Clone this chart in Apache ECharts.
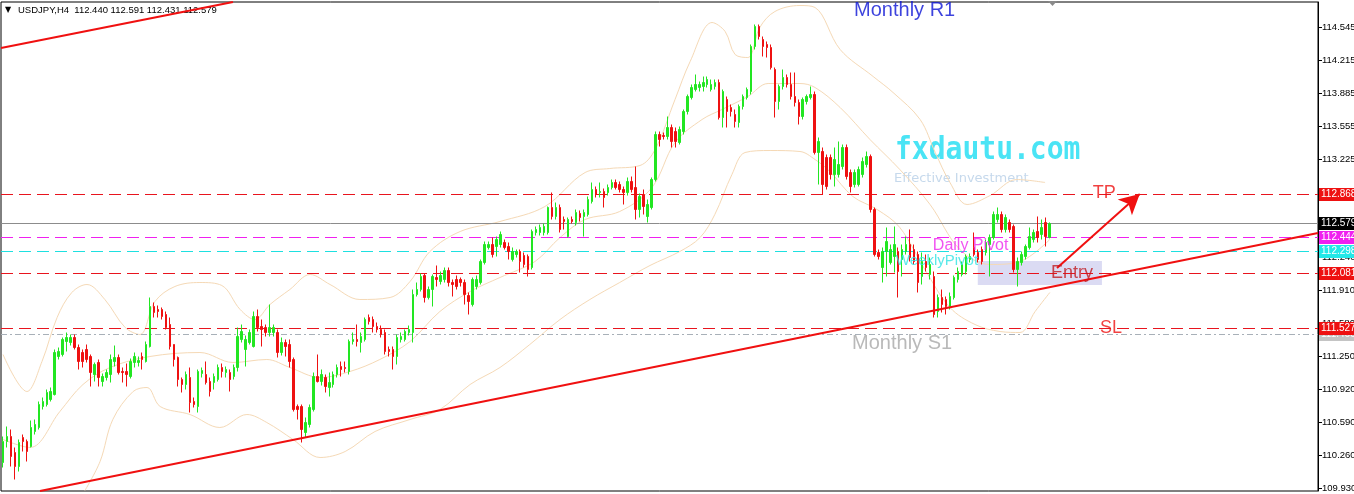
<!DOCTYPE html>
<html><head><meta charset="utf-8">
<script src="https://cdn.jsdelivr.net/npm/echarts@6/dist/echarts.min.js"></script>
<style>html,body{margin:0;padding:0;background:#fff}#c{width:1354px;height:494px}</style>
</head><body><div id="c"></div>
<script>
const symbolName = 'USDJPY,H4';
const N_SLOTS = 331;
// [open, close, low, high]
const ohlc = [
[110.19,110.40,110.14,110.45],[110.40,110.45,110.34,110.55],[110.45,110.25,110.15,110.52],[110.29,110.15,110.02,110.34],[110.15,110.39,110.10,110.42],
[110.44,110.40,110.30,110.47],[110.40,110.30,110.20,110.42],[110.35,110.54,110.34,110.61],[110.50,110.57,110.47,110.62],[110.54,110.77,110.52,110.80],
[110.75,110.80,110.72,110.84],[110.77,110.89,110.75,110.92],[110.82,110.90,110.80,110.94],[110.87,111.29,110.86,111.32],[111.25,111.30,111.22,111.34],
[111.27,111.42,111.25,111.44],[111.40,111.44,111.30,111.49],[111.39,111.44,111.36,111.47],[111.44,111.34,111.32,111.47],[111.34,111.20,111.12,111.37],
[111.29,111.20,111.14,111.32],[111.32,111.22,111.19,111.37],[111.25,111.09,110.95,111.27],[111.07,111.17,111.00,111.19],[111.19,111.04,110.95,111.22],
[111.00,111.05,110.95,111.08],[111.04,111.09,111.01,111.12],[111.07,111.22,110.99,111.27],[111.20,111.24,111.15,111.36],[111.24,111.09,111.07,111.27],
[111.10,111.09,110.99,111.14],[111.10,111.07,110.95,111.18],[111.05,111.20,111.03,111.23],[111.19,111.25,111.14,111.29],[111.19,111.21,111.15,111.25],
[111.25,111.22,111.12,111.29],[111.20,111.37,111.19,111.40],[111.35,111.75,111.34,111.84],[111.75,111.69,111.64,111.79],[111.72,111.70,111.64,111.76],
[111.72,111.65,111.62,111.74],[111.67,111.54,111.52,111.70],[111.57,111.35,111.32,111.64],[111.37,111.22,111.15,111.37],[111.24,111.02,110.95,111.25],
[111.02,110.97,110.89,111.04],[110.97,111.07,110.92,111.10],[111.04,110.79,110.69,111.14],[110.80,110.77,110.74,110.84],[110.75,111.10,110.69,111.12],
[111.08,111.11,111.04,111.14],[111.07,110.99,110.97,111.20],[111.00,110.90,110.85,111.04],[110.99,111.05,110.92,111.08],[111.02,111.14,111.00,111.17],
[111.14,111.10,111.04,111.18],[111.09,111.12,111.04,111.15],[111.09,111.02,110.90,111.12],[111.05,111.14,111.02,111.17],[111.14,111.45,111.10,111.54],
[111.42,111.50,111.39,111.57],[111.32,111.42,111.15,111.46],[111.39,111.49,111.37,111.52],[111.35,111.65,111.34,111.70],[111.65,111.54,111.50,111.72],
[111.55,111.52,111.35,111.62],[111.54,111.49,111.45,111.57],[111.49,111.54,111.45,111.77],[111.49,111.54,111.45,111.57],[111.49,111.29,111.24,111.52],
[111.29,111.39,111.26,111.44],[111.39,111.35,111.25,111.42],[111.37,111.20,111.14,111.42],[111.22,110.72,110.70,111.24],[110.75,110.72,110.62,110.77],
[110.75,110.52,110.39,110.77],[110.49,110.59,110.44,110.64],[110.57,110.74,110.54,110.77],[110.72,111.05,110.70,111.09],[111.05,111.00,110.99,111.27],
[111.00,111.07,110.96,111.12],[111.04,110.95,110.89,111.07],[110.94,110.99,110.85,111.09],[110.97,111.07,110.94,111.10],[111.07,111.14,111.04,111.17],
[111.15,111.12,111.05,111.20],[111.14,111.13,111.09,111.20],[111.10,111.40,111.07,111.42],[111.40,111.42,111.37,111.49],[111.42,111.40,111.35,111.57],
[111.39,111.45,111.29,111.49],[111.42,111.62,111.40,111.64],[111.64,111.60,111.57,111.67],[111.62,111.55,111.49,111.65],[111.55,111.52,111.49,111.59],
[111.52,111.47,111.44,111.56],[111.49,111.30,111.27,111.52],[111.32,111.30,111.25,111.35],[111.32,111.25,111.12,111.35],[111.25,111.44,111.17,111.47],
[111.42,111.45,111.39,111.49],[111.42,111.50,111.40,111.52],[111.49,111.52,111.46,111.56],[111.49,111.87,111.39,111.92],[111.87,111.92,111.85,111.99],
[111.92,112.05,111.90,112.08],[112.06,111.84,111.79,112.08],[111.84,111.92,111.82,111.95],[111.92,112.05,111.75,112.07],[112.04,112.02,111.95,112.16],
[112.00,112.06,111.97,112.10],[112.02,112.11,111.99,112.14],[112.11,111.99,111.95,112.14],[111.99,111.97,111.85,112.02],[112.02,111.95,111.92,112.06],
[112.02,111.99,111.95,112.04],[111.99,111.87,111.77,112.02],[111.86,111.80,111.67,111.89],[111.77,112.02,111.75,112.04],[111.95,112.02,111.92,112.06],
[111.99,112.20,111.97,112.22],[112.19,112.37,112.17,112.40],[112.34,112.37,112.32,112.40],[112.37,112.27,112.24,112.44],[112.35,112.42,112.25,112.45],
[112.37,112.47,112.34,112.50],[112.39,112.34,112.32,112.42],[112.35,112.30,112.22,112.39],[112.22,112.30,112.20,112.34],[112.27,112.30,112.24,112.32],
[112.30,112.20,112.09,112.32],[112.26,112.17,112.14,112.29],[112.25,112.12,112.05,112.27],[112.14,112.50,112.12,112.52],[112.49,112.52,112.46,112.55],
[112.49,112.54,112.46,112.57],[112.49,112.55,112.46,112.58],[112.49,112.74,112.47,112.75],[112.74,112.65,112.62,112.89],[112.65,112.74,112.62,112.79],
[112.74,112.52,112.49,112.77],[112.62,112.60,112.52,112.65],[112.45,112.62,112.44,112.64],[112.62,112.60,112.58,112.65],[112.59,112.69,112.56,112.72],
[112.68,112.64,112.60,112.71],[112.65,112.69,112.45,112.72],[112.67,112.82,112.65,112.85],[112.80,112.92,112.78,112.99],[112.92,112.87,112.84,112.95],
[112.89,112.90,112.84,112.99],[112.90,112.84,112.74,112.93],[112.89,112.94,112.86,112.97],[112.94,112.99,112.92,113.02],[112.99,112.94,112.92,113.02],
[112.97,112.92,112.89,113.00],[112.92,112.89,112.77,112.95],[112.89,113.00,112.86,113.04],[113.00,112.92,112.89,113.05],[112.94,112.72,112.62,113.15],
[112.72,112.85,112.64,112.88],[112.87,112.75,112.67,112.92],[112.65,112.77,112.59,112.82],[112.74,113.02,112.72,113.04],[113.02,113.47,113.00,113.50],
[113.47,113.42,113.35,113.50],[113.46,113.45,113.42,113.49],[113.45,113.54,113.42,113.65],[113.54,113.40,113.34,113.57],[113.50,113.40,113.34,113.54],
[113.39,113.52,113.37,113.55],[113.50,113.70,113.47,113.72],[113.70,113.85,113.67,113.87],[113.84,113.94,113.82,113.97],[113.92,113.97,113.90,114.07],
[113.94,113.97,113.90,114.00],[113.95,113.99,113.90,114.05],[113.97,114.02,113.94,114.05],[113.92,113.97,113.90,114.02],[113.95,113.99,113.92,114.02],
[113.99,113.64,113.62,114.02],[113.64,113.90,113.54,113.92],[113.82,113.70,113.54,113.85],[113.74,113.70,113.65,113.77],[113.67,113.60,113.54,113.72],
[113.59,113.75,113.54,113.77],[113.75,113.85,113.72,113.87],[113.84,113.92,113.82,113.94],[113.90,114.35,113.87,114.37],[114.35,114.55,114.32,114.57],
[114.55,114.45,114.42,114.57],[114.42,114.35,114.25,114.45],[114.37,114.34,114.24,114.40],[114.34,114.14,114.12,114.37],[114.12,113.80,113.64,114.14],
[113.80,113.95,113.72,113.97],[113.95,114.04,113.92,114.12],[114.04,113.97,113.94,114.07],[113.97,113.85,113.82,114.09],[113.85,113.79,113.75,114.09],
[113.79,113.65,113.57,113.82],[113.65,113.82,113.62,113.84],[113.80,113.85,113.77,113.87],[113.84,113.87,113.82,113.95],[113.87,113.29,113.27,113.90],
[113.29,113.40,112.97,113.44],[113.30,112.97,112.87,113.34],[113.24,112.95,112.92,113.27],[113.24,113.07,113.02,113.27],[113.07,113.22,112.95,113.34],
[113.07,113.17,113.04,113.40],[113.15,113.34,113.12,113.37],[113.34,113.05,113.02,113.37],[113.09,112.95,112.89,113.12],[112.97,113.09,112.94,113.12],
[112.97,113.12,112.95,113.15],[113.07,113.20,113.04,113.24],[113.17,113.25,113.14,113.30],[113.25,112.72,112.69,113.27],[112.72,112.27,112.25,112.74],
[112.29,112.25,112.22,112.32],[112.14,112.30,111.99,112.34],[112.30,112.40,112.05,112.54],[112.19,112.32,112.17,112.37],[112.25,112.37,112.09,112.55],
[112.30,112.10,111.84,112.34],[112.22,112.32,112.05,112.37],[112.30,112.37,112.27,112.45],[112.37,112.24,112.20,112.52],[112.32,112.20,112.17,112.37],
[112.27,111.99,111.89,112.30],[112.05,112.20,111.97,112.29],[112.20,112.14,112.10,112.27],[112.07,112.17,112.02,112.24],[112.05,111.67,111.64,112.10],
[111.70,111.84,111.64,111.87],[111.84,111.77,111.69,111.92],[111.82,111.75,111.67,111.85],[111.75,111.85,111.72,111.89],[111.84,112.04,111.82,112.06],
[112.02,112.10,111.99,112.14],[112.07,112.17,112.05,112.20],[112.10,112.25,112.07,112.27],[112.22,112.25,112.19,112.28],[112.34,112.27,112.25,112.49],
[112.29,112.22,112.19,112.32],[112.32,112.20,112.17,112.35],[112.29,112.39,112.26,112.42],[112.37,112.44,112.05,112.47],[112.44,112.67,112.42,112.70],
[112.62,112.67,112.59,112.74],[112.67,112.52,112.49,112.70],[112.52,112.64,112.49,112.67],[112.59,112.52,112.49,112.62],[112.55,112.12,112.09,112.57],
[112.12,112.20,111.95,112.24],[112.19,112.27,112.16,112.30],[112.25,112.35,112.22,112.37],[112.34,112.45,112.32,112.54],[112.42,112.49,112.39,112.52],
[112.50,112.44,112.39,112.65],[112.47,112.54,112.42,112.62],[112.59,112.45,112.35,112.64],[112.440,112.579,112.431,112.591]
];
const yTicks = [109.930,110.260,110.590,110.920,111.250,111.580,111.910,112.240,112.570,112.900,113.225,113.555,113.885,114.215,114.545];
const yMin = 109.905, yMax = 114.795;
// horizontal levels: bid, TP, weekly pivot, daily pivot, monthly S1, SL, entry
const levelValues = [112.579, 112.868, 112.298, 112.444, 111.466, 111.527, 112.081];
// Bollinger bands, [slot, price]
const bbUpper = [[0,111.27],[6,110.9],[9.8,111.2],[13.6,111.64],[17.3,111.89],[21.1,111.97],[25.6,111.82],[30.7,111.54],[34.4,111.47],[38.2,111.8],[43.2,111.95],[49.5,111.99],[55,111.96],[59.6,111.72],[63.3,111.62],[67.1,111.77],[72.1,111.92],[77.2,112.07],[82.2,111.97],[89.7,111.82],[97.3,111.84],[102.3,112.0],[107.3,112.3],[114.9,112.5],[124.9,112.6],[136.2,112.75],[146.3,113.09],[152.5,113.13],[160.1,113.16],[163.9,113.32],[168.9,113.82],[172.7,114.2],[178.2,114.59],[181.5,114.5],[184,114.27],[187.2,114.24],[190.2,114.54],[194,114.7],[200.3,114.76],[204.1,114.74],[210.4,114.32],[218.7,114.05],[223.7,113.89],[230.5,113.62],[234.3,113.29],[238,112.99],[242.3,112.77],[248.1,112.86],[254.8,113.02],[261.9,112.99]];
const bbMiddle = [[0,110.42],[6.8,110.34],[14.3,110.7],[20.1,110.97],[26.9,111.14],[36.9,111.25],[49.5,111.29],[57.8,111.19],[66.3,111.22],[72.1,111.14],[79.7,111.04],[87.2,111.1],[94.7,111.22],[102.3,111.4],[109.8,111.7],[117.4,111.9],[124.9,112.04],[133.7,112.2],[140,112.44],[146.3,112.62],[155,112.7],[163.1,112.94],[168.9,113.39],[175.7,113.62],[180.7,113.72],[187.2,113.85],[192.3,113.98],[200.3,113.98],[204.1,113.94],[210.4,113.74],[217.9,113.42],[225.4,113.12],[233,112.77],[240.5,112.32],[248.1,112.17],[255.6,112.2],[263.1,112.42]];
const bbLower = [[20.6,109.91],[24.4,110.2],[27.6,110.62],[32.7,110.9],[36.2,110.94],[39.5,110.75],[47,110.67],[54.5,110.54],[61.3,110.67],[66.3,110.59],[72.9,110.42],[79.7,110.24],[86,110.3],[93.5,110.5],[102.3,110.62],[109.8,110.72],[117.4,110.97],[124.9,111.14],[132.4,111.37],[140,111.62],[147.5,111.82],[155,111.99],[162.6,112.16],[170.1,112.3],[175.2,112.44],[178.9,112.67],[183.2,113.07],[186.5,113.29],[192.8,113.31],[200.3,113.3],[204.1,113.22],[207.8,113.1],[213.6,112.85],[219.7,112.72],[225.4,112.54],[231.7,112.12],[238,111.74],[244.3,111.57],[250.6,111.5],[255.6,111.49],[259.4,111.7],[263.1,111.89]];
// drawn objects, [slot, price]
const lowerTrend = [[9.3,109.905],[330.5,112.485]];
const upperTrend = [[-0.5,114.335],[57.8,114.795]];
const entryZone = [[245.0,112.205],[276.2,111.965]];
const arrowPts = [[264.9,112.135],[285.7,112.875]];
const annoTexts = ['Monthly R1','Monthly S1','Daily Pivot','WeeklyPivot','TP','SL','Entry'];
const annoSlots = [213.9,213.4,233.7,224.4,273.9,275.7,263.4];
const annoPrices = [114.715,111.385,112.355,112.205,112.885,111.535,112.085];

const FONT = '"Liberation Sans", Arial, sans-serif';
const levelStyles = [
  {color:'#8c8c8c', type:'solid', bg:'#000000'},
  {color:'#e8141e', type:[12,6], bg:'#ee1111'},
  {color:'#1ee0e0', type:[12,6], bg:'#22e8e8'},
  {color:'#f020f0', type:[12,6], bg:'#f020f0'},
  {color:'#a8b0b8', type:[6,3,2,3], bg:'#c4c4c4'},
  {color:'#e8141e', type:[12,6], bg:'#ee1111'},
  {color:'#e8141e', type:[12,6], bg:'#ee1111'}
];
const annoStyles = [
  {color:'#0c14d4', size:20}, {color:'#a8a8a8', size:20}, {color:'#ee28ee', size:16},
  {color:'#30e4e4', size:15}, {color:'#ee1111', size:18}, {color:'#ee1111', size:18}, {color:'#c01c22', size:18}
];

const last = ohlc[ohlc.length - 1];
const headerText = symbolName + '  ' + [last[0], last[3], last[2], last[1]].map(v => v.toFixed(3)).join(' ');
const slots = Array.from({length: N_SLOTS}, (_, i) => i);
const bandStyle = c => ({color: c, width: 1});

const chart = echarts.init(document.getElementById('c'), null, {renderer: 'canvas'});
chart.setOption({
  animation: false,
  backgroundColor: '#ffffff',
  grid: {left: 1, right: 36, top: 2, bottom: 3, show: true, borderColor: '#000', borderWidth: 1,
         backgroundColor: 'transparent', containLabel: false, outerBoundsMode: 'none'},
  xAxis: [
    {type: 'category', data: slots, boundaryGap: true, show: false},
    {type: 'value', min: -0.5, max: N_SLOTS - 0.5, show: false}
  ],
  yAxis: {
    type: 'value', position: 'right', min: yMin, max: yMax,
    axisLine: {show: true, onZero: false, lineStyle: {color: '#000', width: 1}},
    axisTick: {show: true, inside: false, length: 4, customValues: yTicks, lineStyle: {color: '#000'}},
    axisLabel: {show: true, customValues: yTicks, formatter: v => v.toFixed(3), color: '#000', fontSize: 9.5, fontFamily: FONT, margin: 4},
    splitLine: {show: false}
  },
  graphic: [
    {type: 'text', x: 5, y: 10, style: {text: '▼', font: '8px "DejaVu Sans"', fill: '#000', verticalAlign: 'middle', textVerticalAlign: 'middle'}},
    {type: 'text', x: 18, y: 10, style: {text: headerText, font: '9.5px ' + FONT, fill: '#000', verticalAlign: 'middle', textVerticalAlign: 'middle'}},
    {type: 'text', x: 895, y: 150, scaleY: 1.17, style: {text: 'fxdautu.com', font: 'bold 28px "DejaVu Sans Mono"', fill: '#4ae4f5', verticalAlign: 'middle', textVerticalAlign: 'middle'}},
    {type: 'text', x: 894, y: 179, style: {text: 'Effective Investment', font: '13px "DejaVu Sans"', fill: '#c6d9ec', verticalAlign: 'middle', textVerticalAlign: 'middle'}},
    {type: 'polygon', shape: {points: [[1048, 1], [1057, 1], [1052.5, 6]]}, style: {fill: '#8a8a8a'}}
  ],
  series: [
    {type: 'line', name: 'bbUpper', xAxisIndex: 1, data: bbUpper, smooth: 0.35, symbol: 'none', lineStyle: bandStyle('#f5d9b6'), z: 1, silent: true, clip: false},
    {type: 'line', name: 'bbMiddle', xAxisIndex: 1, data: bbMiddle, smooth: 0.35, symbol: 'none', lineStyle: bandStyle('#f5d9b6'), z: 1, silent: true, clip: false,
      markLine: {
        silent: true, symbol: 'none', animation: false,
        data: levelValues.map((v, i) => ({
          yAxis: v,
          lineStyle: {color: levelStyles[i].color, type: levelStyles[i].type, width: 1},
          label: {show: true, position: 'end', distance: 1, formatter: v.toFixed(3), color: '#fff',
                  backgroundColor: levelStyles[i].bg, padding: [2, 4, 1, 2], fontSize: 10, fontFamily: FONT}
        }))
      }},
    {type: 'line', name: 'bbLower', xAxisIndex: 1, data: bbLower, smooth: 0.35, symbol: 'none', lineStyle: bandStyle('#f5d9b6'), z: 1, silent: true, clip: false,
      markArea: {silent: true, itemStyle: {color: 'rgba(200,200,236,0.65)'},
        data: [[{coord: entryZone[0]}, {coord: entryZone[1]}]]}},
    {type: 'candlestick', xAxisIndex: 0, data: ohlc, barWidth: 2, z: 5,
      itemStyle: {color: '#22e622', color0: '#ee1111', borderColor: '#22e622', borderColor0: '#ee1111', borderColorDoji: '#ee1111', borderWidth: 1}},
    {type: 'line', name: 'upperTrend', xAxisIndex: 1, data: upperTrend, symbol: 'none', lineStyle: {color: '#f01010', width: 2}, z: 6, silent: true},
    {type: 'line', name: 'lowerTrend', xAxisIndex: 1, data: lowerTrend, symbol: 'none', lineStyle: {color: '#f01010', width: 2}, z: 6, silent: true,
      markLine: {silent: true, animation: false, symbol: ['none', 'arrow'], symbolSize: [16, 20],
        lineStyle: {color: '#f01010', width: 2, type: 'solid'}, label: {show: false},
        data: [[{coord: arrowPts[0]}, {coord: arrowPts[1]}]]}},
    {type: 'scatter', xAxisIndex: 1, symbolSize: 0, z: 10, silent: true,
      data: annoTexts.map((t, i) => ({
        name: t, value: [annoSlots[i], annoPrices[i]],
        label: {show: true, position: 'right', distance: 0, formatter: '{b}', color: annoStyles[i].color,
                fontSize: annoStyles[i].size, fontFamily: FONT}
      }))}
  ]
});
</script>
</body></html>
